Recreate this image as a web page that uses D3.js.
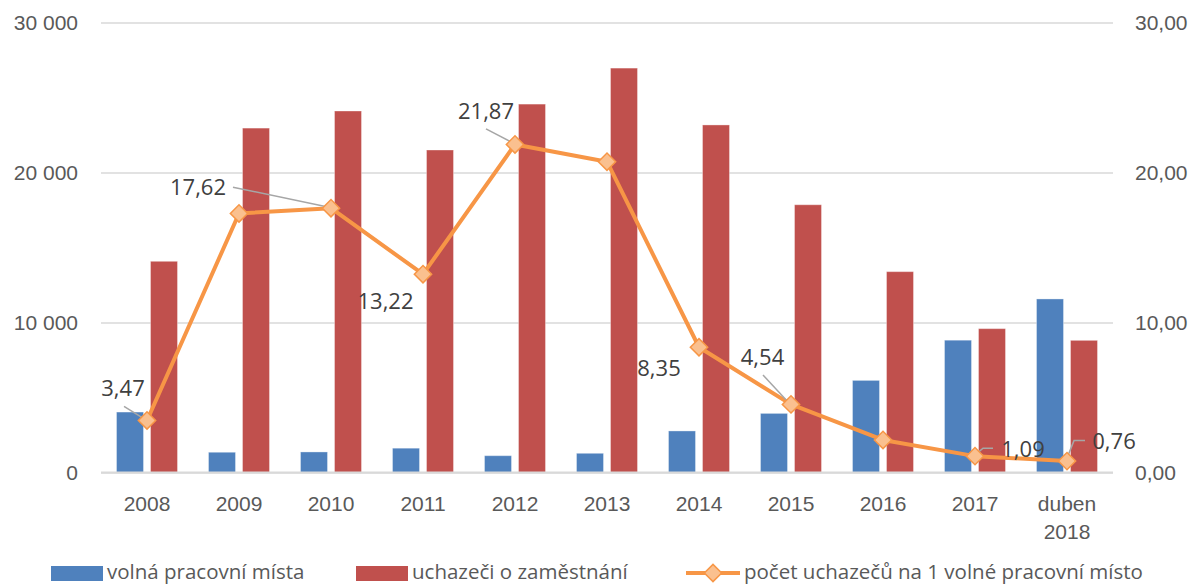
<!DOCTYPE html>
<html>
<head>
<meta charset="utf-8">
<script src="https://cdn.jsdelivr.net/npm/d3@7"></script>
<style>
  body { margin: 0; background: #fff; }
  svg { display: block; font-family: "Open Sans", sans-serif; }
</style>
</head>
<body>
<svg id="chart" width="1192" height="585"></svg>
<script>
// data
const categories = ["2008", "2009", "2010", "2011", "2012", "2013", "2014", "2015", "2016", "2017", "duben 2018"];
const volnaMista = [4030, 1350, 1370, 1620, 1120, 1280, 2770, 3940, 6140, 8820, 11570];
const uchazeci = [14080, 22960, 24100, 21500, 24560, 26960, 23170, 17850, 13390, 9590, 8810];
const pomer = [3.47, 17.27, 17.62, 13.22, 21.87, 20.72, 8.35, 4.54, 2.17, 1.09, 0.76];
const leftTicks = [0, 10000, 20000, 30000];
const rightTicks = [0, 10, 20, 30];
const seriesNames = ["volná pracovní místa", "uchazeči o zaměstnání", "počet uchazečů na 1 volné pracovní místo"];

// which points get a label, and where (offset from the marker, plus leader line)
const labelPlace = {
  0:  {dx: -24, dy: -24.5, leader: [[-23, -14], [-2, -1]]},
  2:  {dx: -133, dy: -13, leader: [[-98, -21], [-2, -1]]},
  3:  {dx: -37.5, dy: 35},
  4:  {dx: -29, dy: -25.5, leader: [[-29, -15.5], [-2, -1.5]]},
  6:  {dx: -40, dy: 29},
  7:  {dx: -28.5, dy: -39.5, leader: [[-28, -29.5], [-2, -1.5]]},
  9:  {dx: 48, dy: 0.5, leader: [[18, -8], [8, -8], [0, -1]]},
  10: {dx: 47, dy: -12, leader: [[18, -20.5], [7, -20.5], [0, -3]]}
};

const blue = "#4F81BD", red = "#C0504D", orange = "#F79646", orangeLight = "#FAC08F";
const axisColor = "#595959", labelColor = "#404040", gridColor = "#D9D9D9";

const svg = d3.select("#chart");
const plotLeft = 101, plotRight = 1113, plotTop = 22.5, plotBottom = 472.5;

const cz = d3.formatLocale({decimal: ",", thousands: " ", grouping: [3], currency: ["", " Kč"]});
const fmtInt = cz.format(",.0f");
const fmtDec = cz.format(".2f");

const x = d3.scaleBand()
  .domain(categories)
  .range([plotLeft, plotRight])
  .paddingInner(0.337)
  .paddingOuter(0.1685);

const xInner = d3.scaleBand()
  .domain([0, 1])
  .range([0, x.bandwidth()])
  .paddingInner(0.206);

const y = d3.scaleLinear().domain([0, 30000]).range([plotBottom, plotTop]);
const y2 = d3.scaleLinear().domain([0, 30]).range([plotBottom, plotTop]);

// grid + left axis
const gLeft = svg.append("g")
  .attr("transform", `translate(${plotLeft},0)`)
  .call(d3.axisLeft(y).tickValues(leftTicks).tickSize(-(plotRight - plotLeft)).tickPadding(23).tickFormat(fmtInt));
gLeft.select(".domain").remove();
gLeft.selectAll(".tick line").attr("stroke", gridColor).attr("stroke-width", 1.5);
gLeft.selectAll(".tick text").attr("fill", axisColor).style("font-size", "21px");

// right axis
const gRight = svg.append("g")
  .attr("transform", `translate(${plotRight},0)`)
  .call(d3.axisRight(y2).tickValues(rightTicks).tickSize(0).tickPadding(22).tickFormat(fmtDec));
gRight.select(".domain").remove();
gRight.selectAll(".tick text").attr("fill", axisColor).style("font-size", "21px");

// bars
const groups = svg.append("g").selectAll("g")
  .data(categories)
  .join("g")
  .attr("transform", d => `translate(${x(d)},0)`);

groups.append("rect")
  .attr("x", xInner(0))
  .attr("width", xInner.bandwidth())
  .attr("y", (d, i) => y(volnaMista[i]))
  .attr("height", (d, i) => plotBottom - y(volnaMista[i]))
  .attr("fill", blue)
  .attr("stroke", "rgba(255,255,255,0.35)");

groups.append("rect")
  .attr("x", xInner(1))
  .attr("width", xInner.bandwidth())
  .attr("y", (d, i) => y(uchazeci[i]))
  .attr("height", (d, i) => plotBottom - y(uchazeci[i]))
  .attr("fill", red)
  .attr("stroke", "rgba(255,255,255,0.35)");

// baseline
svg.append("line")
  .attr("x1", plotLeft).attr("x2", plotRight)
  .attr("y1", plotBottom).attr("y2", plotBottom)
  .attr("stroke", gridColor).attr("stroke-width", 2);

// x axis labels
const gx = svg.append("g")
  .attr("transform", `translate(0,${plotBottom})`)
  .call(d3.axisBottom(x).tickSize(0).tickPadding(23.5));
gx.select(".domain").remove();
gx.selectAll(".tick text")
  .attr("fill", axisColor)
  .style("font-size", "21px")
  .each(function(d) {
    const words = d.split(" ");
    if (words.length > 1) {
      const t = d3.select(this).text(null);
      words.forEach((w, k) => {
        t.append("tspan").attr("x", 0).attr("dy", k === 0 ? "0.71em" : "28.5px").text(w);
      });
      t.attr("dy", null);
    }
  });

// ratio line
const cx = i => x(categories[i]) + x.bandwidth() / 2;
const line = d3.line()
  .x((d, i) => cx(i))
  .y(d => y2(d));

svg.append("path")
  .datum(pomer)
  .attr("d", line)
  .attr("fill", "none")
  .attr("stroke", orange)
  .attr("stroke-width", 4)
  .attr("stroke-linejoin", "round");

const diamond = d3.symbol().type(d3.symbolSquare).size(150);

// leader lines
const leaderLine = d3.line();
Object.keys(labelPlace).forEach(k => {
  const i = +k, p = labelPlace[k];
  if (!p.leader) return;
  svg.append("path")
    .attr("d", leaderLine(p.leader.map(q => [cx(i) + q[0], y2(pomer[i]) + q[1]])))
    .attr("fill", "none")
    .attr("stroke", "#A6A6A6")
    .attr("stroke-width", 1.5);
});

svg.append("g").selectAll("path")
  .data(pomer)
  .join("path")
  .attr("d", diamond)
  .attr("transform", (d, i) => `translate(${cx(i)},${y2(d)}) rotate(45)`)
  .attr("fill", orangeLight)
  .attr("stroke", orange)
  .attr("stroke-width", 1.5);

// data labels
Object.keys(labelPlace).forEach(k => {
  const i = +k, p = labelPlace[k];
  svg.append("text")
    .attr("x", cx(i) + p.dx)
    .attr("y", y2(pomer[i]) + p.dy)
    .attr("text-anchor", "middle")
    .attr("fill", labelColor)
    .style("font-size", "22px")
    .text(fmtDec(pomer[i]));
});

// legend
const legend = svg.append("g").style("font-size", "20.5px").attr("fill", axisColor);
legend.append("rect").attr("x", 51).attr("y", 566).attr("width", 52).attr("height", 15).attr("fill", blue);
legend.append("text").attr("x", 107).attr("y", 579).text(seriesNames[0]);
legend.append("rect").attr("x", 356).attr("y", 566).attr("width", 52).attr("height", 15).attr("fill", red);
legend.append("text").attr("x", 412).attr("y", 579).text(seriesNames[1]);
legend.append("line").attr("x1", 686).attr("x2", 740).attr("y1", 573).attr("y2", 573)
  .attr("stroke", orange).attr("stroke-width", 4);
legend.append("path").attr("d", diamond).attr("transform", "translate(713,573) rotate(45)")
  .attr("fill", orangeLight).attr("stroke", orange).attr("stroke-width", 1.5);
legend.append("text").attr("x", 744).attr("y", 579).text(seriesNames[2]);
</script>
</body>
</html>
